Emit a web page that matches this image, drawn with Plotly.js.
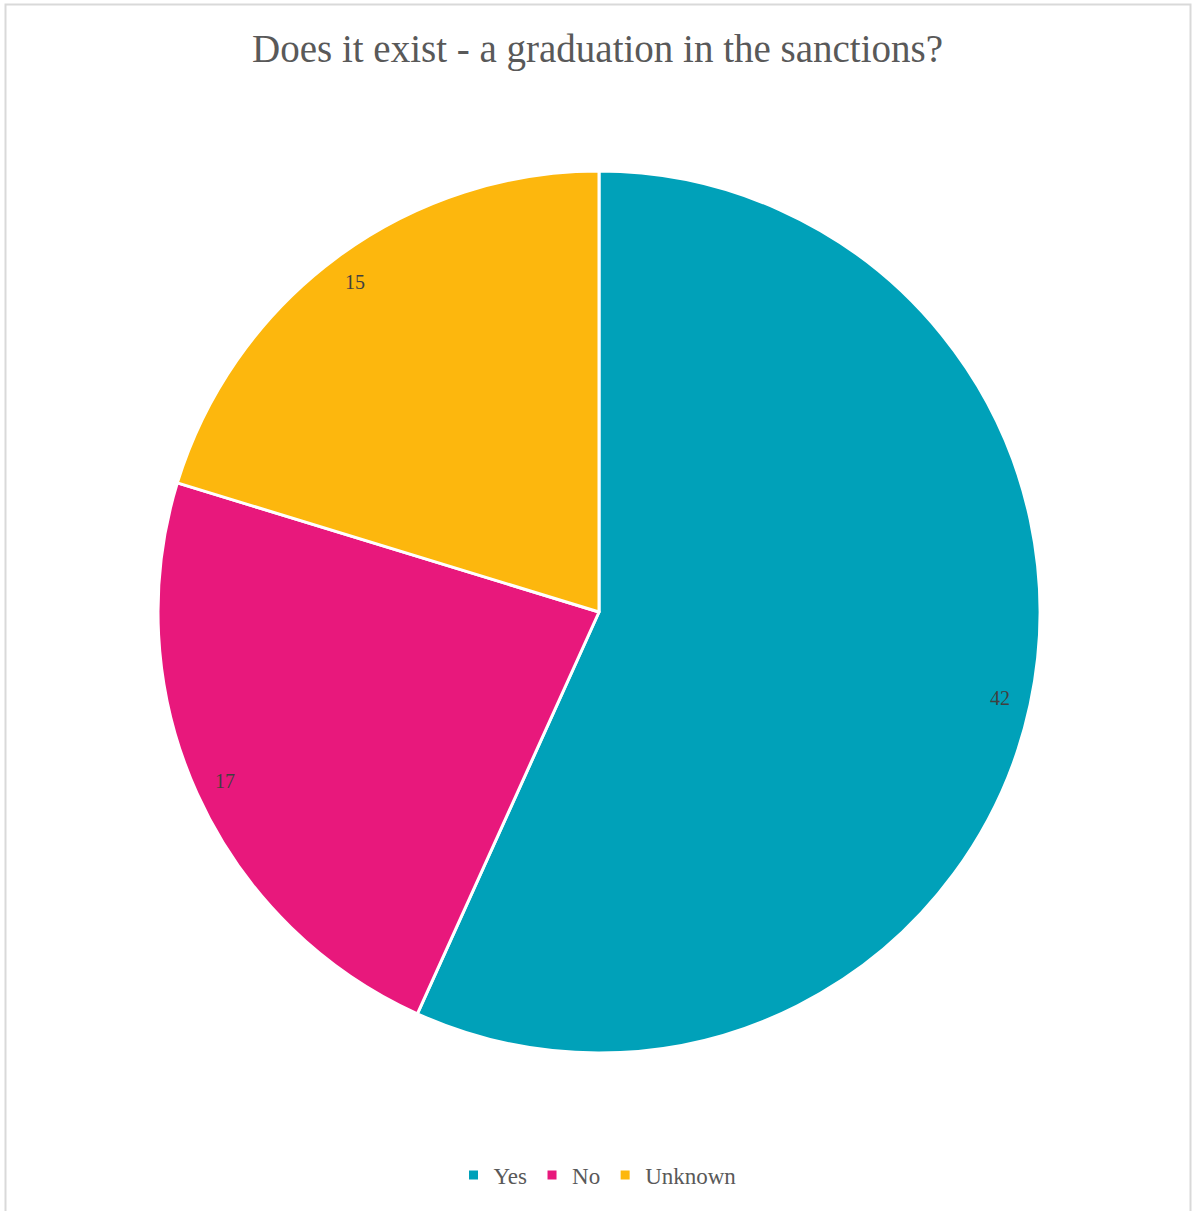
<!DOCTYPE html>
<html>
<head>
<meta charset="utf-8">
<script src="https://cdn.plot.ly/plotly-3.0.1.min.js"></script>
<style>
html,body{margin:0;padding:0;background:#fff;}
#chart{width:1195px;height:1211px;}
</style>
</head>
<body>
<div id="chart"></div>
<script>
const categories = ["Yes", "No", "Unknown"];
const values = [42, 17, 15];
const colors = ["#00A1B9", "#E8187C", "#FDB70D"];
const titleText = "Does it exist - a graduation in the sanctions?";

const W = 1195, H = 1211;
const cx = 599, cy = 612, R = 441;
const dom = {
  x: [(cx - R) / W, (cx + R) / W],
  y: [1 - (cy + R) / H, 1 - (cy - R) / H]
};

// data labels placed near the outer edge of each slice (computed from values)
const total = values.reduce((a, b) => a + b, 0);
const annotations = [];
let cum = 0;
values.forEach((v, i) => {
  const mid = (cum + v / 2) / total * 2 * Math.PI;
  cum += v;
  const r = 0.93 * R;
  const px = cx + r * Math.sin(mid);
  const py = cy - r * Math.cos(mid);
  annotations.push({
    x: px / W, y: 1 - py / H, xref: "paper", yref: "paper",
    text: String(v), showarrow: false,
    xanchor: "center", yanchor: "middle",
    font: {family: "Liberation Serif, serif", size: 20, color: "#404040"}
  });
});

const trace = {
  type: "pie",
  labels: categories,
  values: values,
  sort: false,
  direction: "clockwise",
  rotation: 0,
  marker: {colors: colors, line: {color: "#ffffff", width: 3}},
  textinfo: "none",
  hoverinfo: "label+value",
  domain: dom
};

const layout = {
  width: W, height: H,
  margin: {l: 0, r: 0, t: 0, b: 0},
  paper_bgcolor: "#ffffff",
  title: {
    text: titleText,
    x: 0.5, xanchor: "center",
    y: 1 - 48 / H, yanchor: "middle",
    font: {family: "Liberation Serif, serif", size: 39, color: "#595959"}
  },
  showlegend: true,
  legend: {
    orientation: "h",
    x: 0.5, xanchor: "center",
    y: 1 - 1175 / H, yanchor: "middle",
    font: {family: "Liberation Serif, serif", size: 23, color: "#595959"},
    itemwidth: 30,
    tracegroupgap: 0
  },
  annotations: annotations,
  shapes: [{
    type: "rect", xref: "paper", yref: "paper",
    x0: 5.5 / W, x1: 1190.5 / W, y0: -0.05, y1: 1 - 4.5 / H,
    line: {color: "#D9D9D9", width: 2}, fillcolor: "rgba(0,0,0,0)", layer: "below"
  }]
};

Plotly.newPlot("chart", [trace], layout, {displayModeBar: false, staticPlot: true});
</script>
</body>
</html>
